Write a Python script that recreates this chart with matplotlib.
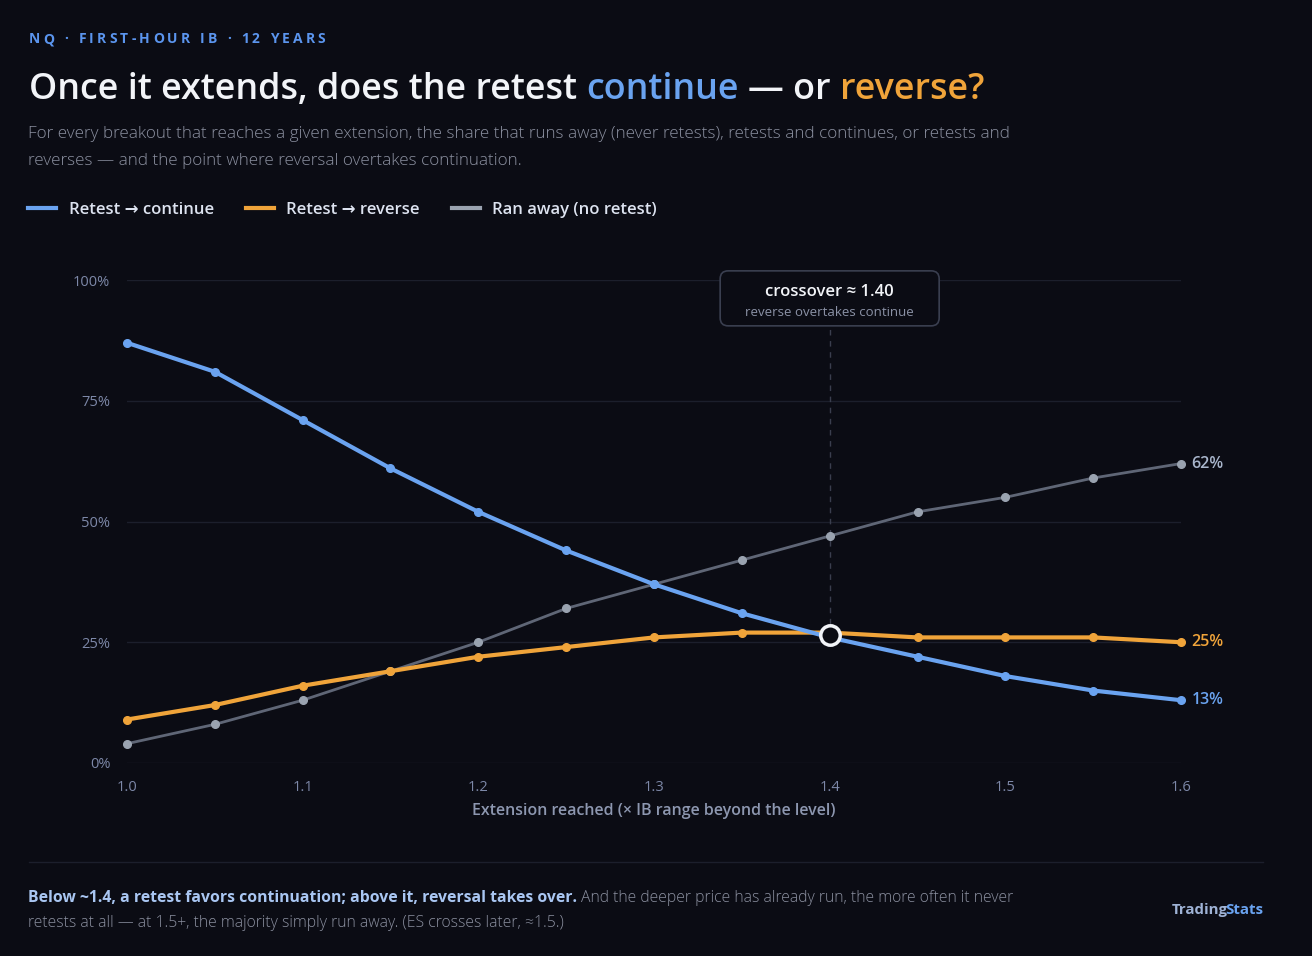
import matplotlib
matplotlib.use("Agg")
import matplotlib.pyplot as plt
import matplotlib.transforms as mtransforms
from matplotlib.patches import FancyBboxPatch
from matplotlib.lines import Line2D

# data
extension = [1.0, 1.05, 1.1, 1.15, 1.2, 1.25, 1.3, 1.35, 1.4, 1.45, 1.5, 1.55, 1.6]
retest_continue = [87, 81, 71, 61, 52, 44, 37, 31, 26, 22, 18, 15, 13]
retest_reverse = [9, 12, 16, 19, 22, 24, 26, 27, 27, 26, 26, 26, 25]
ran_away = [4, 8, 13, 19, 25, 32, 37, 42, 47, 52, 55, 59, 62]
crossover_x = 1.4
crossover_y = 26.5
y_ticks = [0, 25, 50, 75, 100]
y_tick_labels = ["0%", "25%", "50%", "75%", "100%"]
x_ticks = [1.0, 1.1, 1.2, 1.3, 1.4, 1.5, 1.6]
x_tick_labels = ["1.0", "1.1", "1.2", "1.3", "1.4", "1.5", "1.6"]

# colours
BG = "#0b0c14"
BLUE = "#6aa3f0"
ORANGE = "#f0a43a"
GRAY_LINE = "#5f6676"
GRAY_MARK = "#9aa3b0"
WHITE = "#f2f4f8"
SUB = "#8b90a0"
TICK = "#7d88a8"
GRID = "#1c1f2c"

FONT = ["Open Sans", "DejaVu Sans"]
plt.rcParams["font.family"] = FONT

fig = plt.figure(figsize=(13.12, 9.56), dpi=100, facecolor=BG)
W, H = 1312, 956
ax = fig.add_axes([127 / W, 1 - 763 / H, (1181 - 127) / W, (763 - 280) / H])
ax.set_facecolor(BG)
renderer = fig.canvas.get_renderer()


def fx(px):
    return px / W


def fy(py):
    return 1 - py / H


def text_w(s, **props):
    t = fig.text(0, 0, s, **props)
    w = t.get_window_extent(renderer).width
    t.remove()
    return w


def space_w(**props):
    return text_w("a a", **props) - text_w("aa", **props)


def draw_runs(x_px, y_px, runs, **common):
    # runs of differently styled words on one baseline, separated by a space
    x = x_px
    for i, (s, props) in enumerate(runs):
        p = dict(common, **props)
        if i > 0:
            x += space_w(**p)
        fig.text(fx(x), fy(y_px), s, va="center", ha="left", **p)
        x += text_w(s, **p)


def draw_tracked(x_px, y_px, s, tracking, **props):
    x = x_px
    for ch in s:
        if ch == " ":
            x += space_w(**props) + tracking
            continue
        fig.text(fx(x), fy(y_px), ch, va="center", ha="left", **props)
        x += text_w(ch, **props) + tracking


# header
draw_tracked(29, 39, "NQ · FIRST-HOUR IB · 12 YEARS", 3.2,
             fontsize=10, fontweight="bold", color="#5b95ee")
draw_runs(29, 90, [
    ("Once it extends, does the retest", {"color": WHITE}),
    ("continue", {"color": BLUE}),
    ("— or", {"color": WHITE}),
    ("reverse?", {"color": ORANGE}),
], fontsize=25.8, fontweight="semibold")
fig.text(fx(28), fy(134), "For every breakout that reaches a given extension, the share that runs away "
         "(never retests), retests and continues, or retests and",
         va="center", ha="left", fontsize=12.3, color=SUB, fontweight="light")
fig.text(fx(28), fy(161), "reverses — and the point where reversal overtakes continuation.",
         va="center", ha="left", fontsize=12.3, color=SUB, fontweight="light")

# legend
handles = [Line2D([], [], color=BLUE, lw=3),
           Line2D([], [], color=ORANGE, lw=3),
           Line2D([], [], color=GRAY_MARK, lw=3)]
leg = fig.legend(handles, ["Retest → continue", "Retest → reverse", "Ran away (no retest)"],
                 loc="center left", bbox_to_anchor=(fx(28), fy(210)), ncol=3, frameon=False,
                 handlelength=1.7, handletextpad=0.75, columnspacing=1.9, borderpad=0,
                 borderaxespad=0, prop={"family": FONT, "size": 12, "weight": "semibold"})
for t in leg.get_texts():
    t.set_color("#dde3f0")

# chart
for y in y_ticks:
    ax.axhline(y, color=GRID, lw=1, zorder=0)
ax.plot(extension, ran_away, color=GRAY_LINE, lw=2, marker="o", markersize=5.5,
        markerfacecolor=GRAY_MARK, markeredgecolor=GRAY_MARK, clip_on=False, zorder=3)
ax.plot(extension, retest_reverse, color=ORANGE, lw=3, marker="o", markersize=5.5,
        clip_on=False, zorder=4)
ax.plot(extension, retest_continue, color=BLUE, lw=3, marker="o", markersize=5.5,
        clip_on=False, zorder=5)

ax.set_xlim(1.0, 1.6)
ax.set_ylim(0, 100)
ax.set_xticks(x_ticks, x_tick_labels)
ax.set_yticks(y_ticks, y_tick_labels)
ax.tick_params(length=0, colors=TICK, labelsize=10.5)
ax.tick_params(axis="y", pad=12)
ax.tick_params(axis="x", pad=12)
for s in ax.spines.values():
    s.set_visible(False)
ax.set_xlabel("Extension reached (× IB range beyond the level)", color="#8d97b0",
              fontsize=11.5, fontweight="semibold", labelpad=6)

# end labels
for series, col in [(ran_away, "#a9b6cc"), (retest_reverse, ORANGE), (retest_continue, BLUE)]:
    ax.annotate(f"{series[-1]}%", (extension[-1], series[-1]), xytext=(7.5, 0),
                textcoords="offset points", va="center", ha="left", color=col,
                fontsize=11.5, fontweight="semibold", annotation_clip=False)

# crossover marker and callout
ax.plot([crossover_x, crossover_x], [crossover_y, 90.5], color="#3a3e4e", lw=1,
        ls=(0, (4, 4)), zorder=2)
ax.plot([crossover_x], [crossover_y], marker="o", markersize=14, markerfacecolor=BG,
        markeredgecolor=WHITE, markeredgewidth=2.5, zorder=6, clip_on=False)
box_tr = fig.dpi_scale_trans + mtransforms.ScaledTranslation(crossover_x, 96.2, ax.transData)
ax.add_patch(FancyBboxPatch((-1.095, -0.275), 2.19, 0.55,
                            boxstyle="round,pad=0,rounding_size=0.08",
                            transform=box_tr, facecolor=BG, edgecolor="#3a3f50",
                            lw=1.2, clip_on=False, zorder=7))
ax.text(0, 0.065, "crossover ≈ 1.40", transform=box_tr, ha="center", va="center",
        color=WHITE, fontsize=12, fontweight="semibold", zorder=8)
ax.text(0, -0.145, "reverse overtakes continue", transform=box_tr, ha="center",
        va="center", color="#8b92a6", fontsize=9.5, zorder=8)

# footer
fig.add_artist(Line2D([fx(29), fx(1263)], [fy(862), fy(862)], color="#1c1f2c", lw=1))
draw_runs(28, 898, [
    ("Below ~1.4, a retest favors continuation; above it, reversal takes over.",
     {"color": "#a9c6f2", "fontweight": "bold"}),
    ("And the deeper price has already run, the more often it never",
     {"color": SUB, "fontweight": "light"}),
], fontsize=11.3)
fig.text(fx(28), fy(923), "retests at all — at 1.5+, the majority simply run away. (ES crosses later, ≈1.5.)",
         va="center", ha="left", fontsize=11.3, color=SUB, fontweight="light")
w_stats = text_w("Stats", fontsize=10.8, fontweight="bold")
fig.text(fx(1263), fy(910), "Stats", ha="right", va="center", fontsize=10.8,
         fontweight="bold", color=BLUE)
fig.text(fx(1263 - w_stats + 2.5), fy(910), "Trading", ha="right", va="center", fontsize=10.8,
         fontweight="bold", color="#9fb3d6")

fig.savefig("out.png", dpi=100, facecolor=BG)
